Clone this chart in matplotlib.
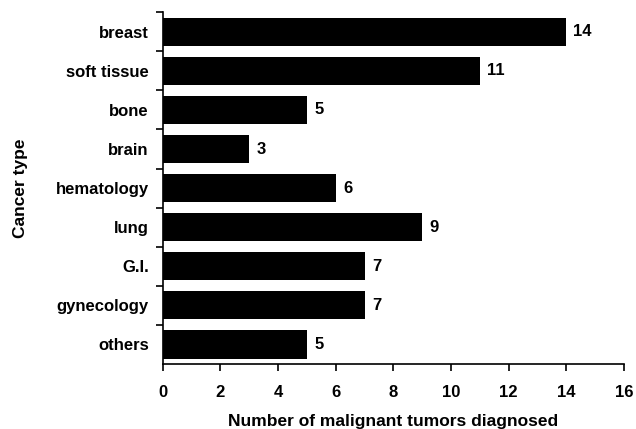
import matplotlib.pyplot as plt

plt.rcParams['font.family'] = ['Liberation Sans', 'DejaVu Sans']
plt.rcParams['font.weight'] = 'bold'

categories = ["breast", "soft tissue", "bone", "brain", "hematology",
              "lung", "G.I.", "gynecology", "others"]
counts = [14, 11, 5, 3, 6, 9, 7, 7, 5]

fig = plt.figure(figsize=(6.36, 4.29), dpi=100)
ax = fig.add_axes([0.256, 0.1515, 0.725, 0.82])

ypos = list(range(len(categories)))[::-1]
ax.barh(ypos, counts, height=0.72, color="black")

for y, v in zip(ypos, counts):
    ax.text(v + 0.25, y, str(v), va="center", ha="left", fontsize=12, fontweight="bold")

ax.set_xlim(0, 16)
ax.set_ylim(-0.5, len(categories) - 0.5)
ax.set_xticks(range(0, 17, 2))
ax.set_yticks(ypos)
ax.set_yticklabels(categories)
ax.set_yticks([y + 0.5 for y in ypos], minor=True)
ax.tick_params(axis="y", which="major", length=0, pad=10, labelsize=12)
ax.tick_params(axis="y", which="minor", length=5, width=1.2, direction="out")
ax.tick_params(axis="x", length=5, width=1.2, direction="out", pad=10, labelsize=12)

for side in ("top", "right"):
    ax.spines[side].set_visible(False)
for side in ("left", "bottom"):
    ax.spines[side].set_linewidth(1.2)

ax.set_xlabel("Number of malignant tumors diagnosed", fontsize=12.5, fontweight="bold", labelpad=10)
ax.set_ylabel("Cancer type", fontsize=12.5, fontweight="bold", labelpad=20)

fig.savefig("out.png", dpi=100)
